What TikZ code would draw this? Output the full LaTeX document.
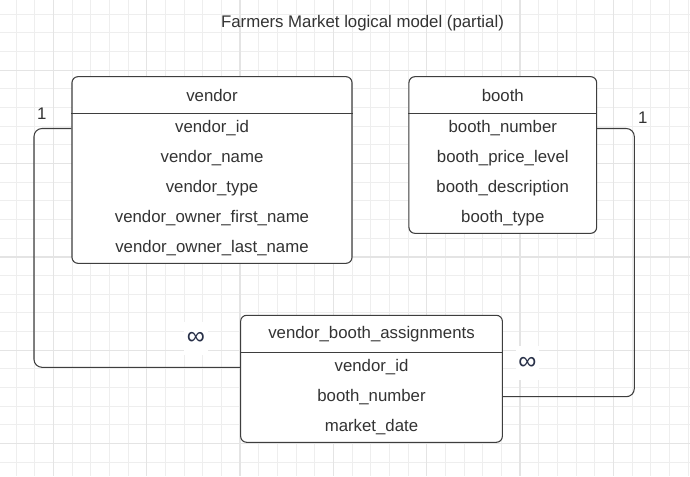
\documentclass[tikz,border=0pt]{standalone}
\usepackage{fontspec}
\setmainfont{Liberation Sans}
\usepackage{tikz}
\usetikzlibrary{positioning}

\definecolor{gridminor}{RGB}{238,238,238}
\definecolor{gridmajor}{RGB}{228,228,228}
\definecolor{inkgray}{RGB}{51,51,51}
\definecolor{linkgray}{RGB}{62,62,62}
\definecolor{infnavy}{RGB}{40,48,72}

\begin{document}
\begin{tikzpicture}[x=0.75pt,y=0.75pt,yscale=-1,xscale=1,
  tablebox/.style={draw=linkgray, fill=white, line width=0.8pt, rounded corners=4.5pt, inner sep=0pt},
  headline/.style={draw=linkgray, line width=0.8pt},
  fieldtext/.style={font=\fontsize{12.6}{15}\selectfont, text=inkgray, inner sep=0pt},
  cardlabel/.style={font=\fontsize{12.6}{15}\selectfont, text=inkgray, inner sep=0pt},
  manylabel/.style={font=\fontsize{19}{21}\selectfont, text=infnavy, fill=white, inner xsep=2pt, inner ysep=8pt},
  relline/.style={draw=linkgray, line width=0.8pt, rounded corners=6pt}]
\useasboundingbox (0,0) rectangle (690,476);

%Background grid
\fill[white] (0,0) rectangle (690,476);
\begin{scope}
\clip (0,0) rectangle (690,476);
\foreach \k in {0,...,37} {\draw[gridminor, line width=0.75pt] ({16+18.667*\k},0) -- ({16+18.667*\k},476);}
\foreach \k in {0,...,25} {\draw[gridminor, line width=0.75pt] (0,{14.3+18.667*\k}) -- (690,{14.3+18.667*\k});}
\foreach \k in {0,...,6} {\draw[gridmajor, line width=0.9pt] ({53.33+93.33*\k},0) -- ({53.33+93.33*\k},476);}
\foreach \k in {-1,...,4} {\draw[gridmajor, line width=0.9pt] (0,{70.3+93.33*\k}) -- (690,{70.3+93.33*\k});}
\end{scope}

% Text Node
\node[fieldtext] (title) at (362.5,23.5) {Farmers Market logical model (partial)};

%Table: vendor
\node[tablebox, minimum width=210pt, minimum height=140pt] (vendor) at (212,170) {};
\coordinate (vendorhead) at (0,113.3);
\draw[headline] (vendor.west |- vendorhead) -- (vendor.east |- vendorhead);
\node[fieldtext] (vendor-name) at (212,95) {vendor};
\foreach \txt [count=\i] in {vendor\_id, vendor\_name, vendor\_type, vendor\_owner\_first\_name, vendor\_owner\_last\_name}
  \node[fieldtext] (vendor-f\i) at (212,{98.5+30*\i}) {\txt};

%Table: booth
\node[tablebox, minimum width=140.8pt, minimum height=117.5pt] (booth) at (502.8,155) {};
\coordinate (boothhead) at (0,113.3);
\draw[headline] (booth.west |- boothhead) -- (booth.east |- boothhead);
\node[fieldtext] (booth-name) at (502.8,95) {booth};
\foreach \txt [count=\i] in {booth\_number, booth\_price\_level, booth\_description, booth\_type}
  \node[fieldtext] (booth-f\i) at (502.8,{98.5+30*\i}) {\txt};

%Table: vendor_booth_assignments
\node[tablebox, minimum width=196.3pt, minimum height=95.25pt] (vba) at (371.5,378.8) {};
\coordinate (vbahead) at (0,352.3);
\draw[headline] (vba.west |- vbahead) -- (vba.east |- vbahead);
\node[fieldtext] (vba-name) at (371.5,334) {vendor\_booth\_assignments};
\foreach \txt [count=\i] in {vendor\_id, booth\_number, market\_date}
  \node[fieldtext] (vba-f\i) at (371.5,{337.5+30*\i}) {\txt};

%Relationship lines
\coordinate (leftbus) at (34,0);
\coordinate (rightbus) at (634.3,0);
\coordinate (leftend) at (0,367.3);
\coordinate (rightend) at (0,396.7);
\draw[relline] (vendor.west |- vendor-f1) -- (leftbus |- vendor-f1) -- (leftbus |- leftend) -- (vba.west |- leftend);
\draw[relline] (booth.east |- booth-f1) -- (rightbus |- booth-f1) -- (rightbus |- rightend) -- (vba.east |- rightend);

% Text Node
\node[cardlabel] (one-vendor) at (41.7,114) {1};
\node[cardlabel] (one-booth) at (642.7,117.5) {1};
\node[manylabel] (many-vendor) at (196,338.5) {∞};
\node[manylabel] (many-booth) at (527.3,363) {∞};

\end{tikzpicture}
\end{document}
